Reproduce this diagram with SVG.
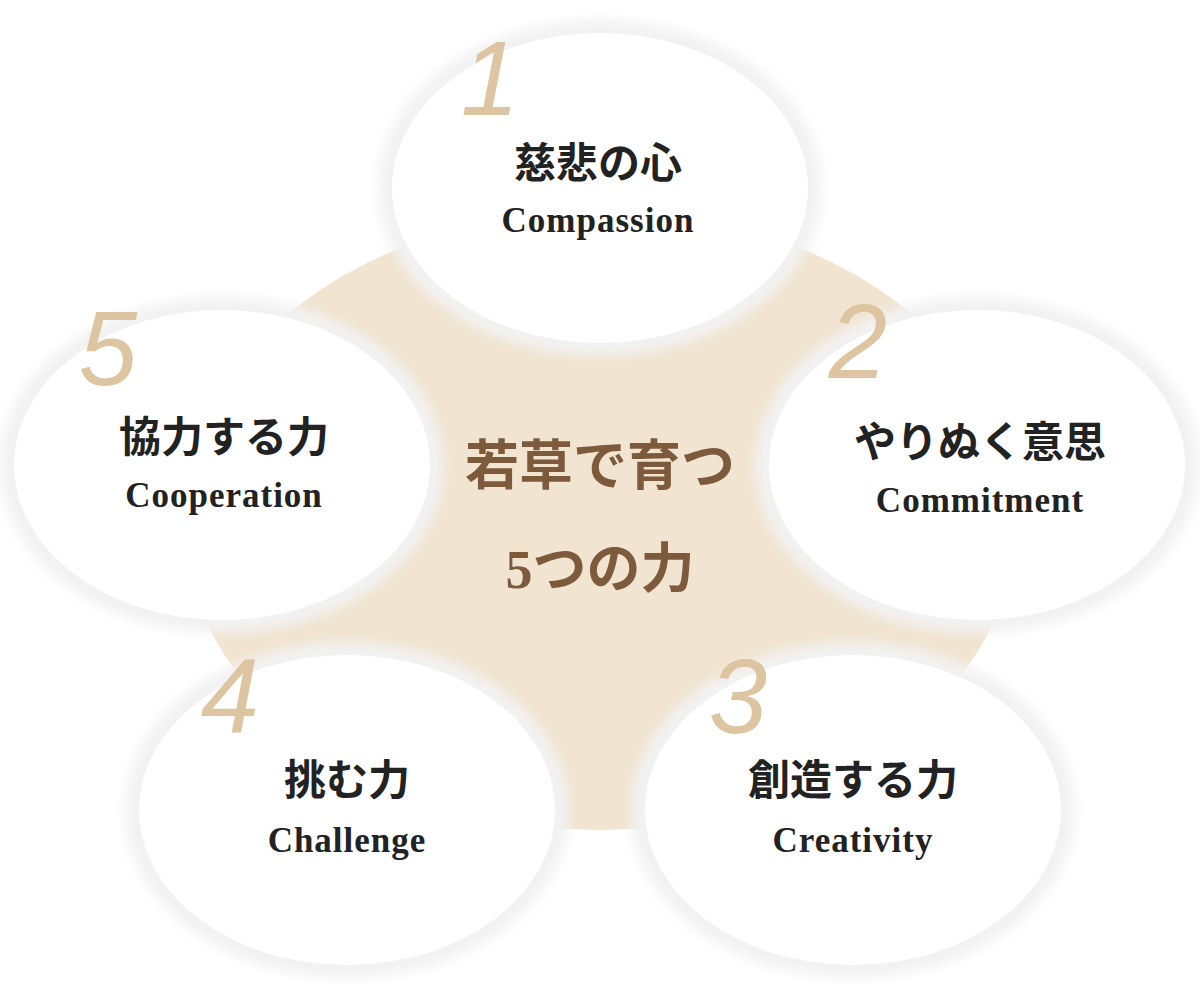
<svg xmlns="http://www.w3.org/2000/svg" width="1200" height="999" viewBox="0 0 1200 999">
<defs>
<style>
.halo{fill:#f2f2f2;filter:url(#b)}
.node{fill:#fff}
.num{font-family:"Liberation Sans",sans-serif;font-style:italic;font-size:105px;fill:#dcc5a0;text-anchor:middle}
.jp{font-family:"Liberation Serif","Noto Sans CJK JP",serif;font-weight:bold;font-size:42px;fill:#222;text-anchor:middle}
.en{font-family:"Liberation Serif",serif;font-weight:bold;font-size:35px;fill:#222;text-anchor:middle;letter-spacing:1px}
.ct{font-family:"Liberation Serif","Noto Sans CJK JP",serif;font-weight:bold;font-size:54px;fill:#7d5a3c;text-anchor:middle}
</style>
<filter id="b" x="-20%" y="-20%" width="140%" height="140%"><feGaussianBlur stdDeviation="6"/></filter>
</defs>
<ellipse cx="600" cy="520" rx="417" ry="310" fill="#f1e4d0"/>
<g id="center"><text class="ct" x="600" y="485">若草で育つ</text><text class="ct" x="600" y="588">5つの力</text></g>
<g id="n1"><ellipse class="halo" cx="600" cy="188" rx="222" ry="168"/><ellipse class="node" cx="600" cy="188" rx="208" ry="155"/><text class="num" x="490" y="115">1</text><text class="jp" x="598" y="178">慈悲の心</text><text class="en" x="598" y="232">Compassion</text></g>
<g id="n2"><ellipse class="halo" cx="977" cy="465" rx="222" ry="168"/><ellipse class="node" cx="977" cy="465" rx="208" ry="155"/><text class="num" x="858" y="378">2</text><text class="jp" x="980" y="457">やりぬく意思</text><text class="en" x="980" y="512">Commitment</text></g>
<g id="n3"><ellipse class="halo" cx="853" cy="810" rx="222" ry="168"/><ellipse class="node" cx="853" cy="810" rx="208" ry="155"/><text class="num" x="738" y="733">3</text><text class="jp" x="853" y="795">創造する力</text><text class="en" x="853" y="852">Creativity</text></g>
<g id="n4"><ellipse class="halo" cx="347" cy="810" rx="222" ry="168"/><ellipse class="node" cx="347" cy="810" rx="208" ry="155"/><text class="num" x="230" y="733">4</text><text class="jp" x="347" y="795">挑む力</text><text class="en" x="347" y="852">Challenge</text></g>
<g id="n5"><ellipse class="halo" cx="222" cy="465" rx="222" ry="168"/><ellipse class="node" cx="222" cy="465" rx="208" ry="155"/><text class="num" x="108" y="385">5</text><text class="jp" x="224" y="452">協力する力</text><text class="en" x="224" y="507">Cooperation</text></g>
<g id="connectors"/>
</svg>
